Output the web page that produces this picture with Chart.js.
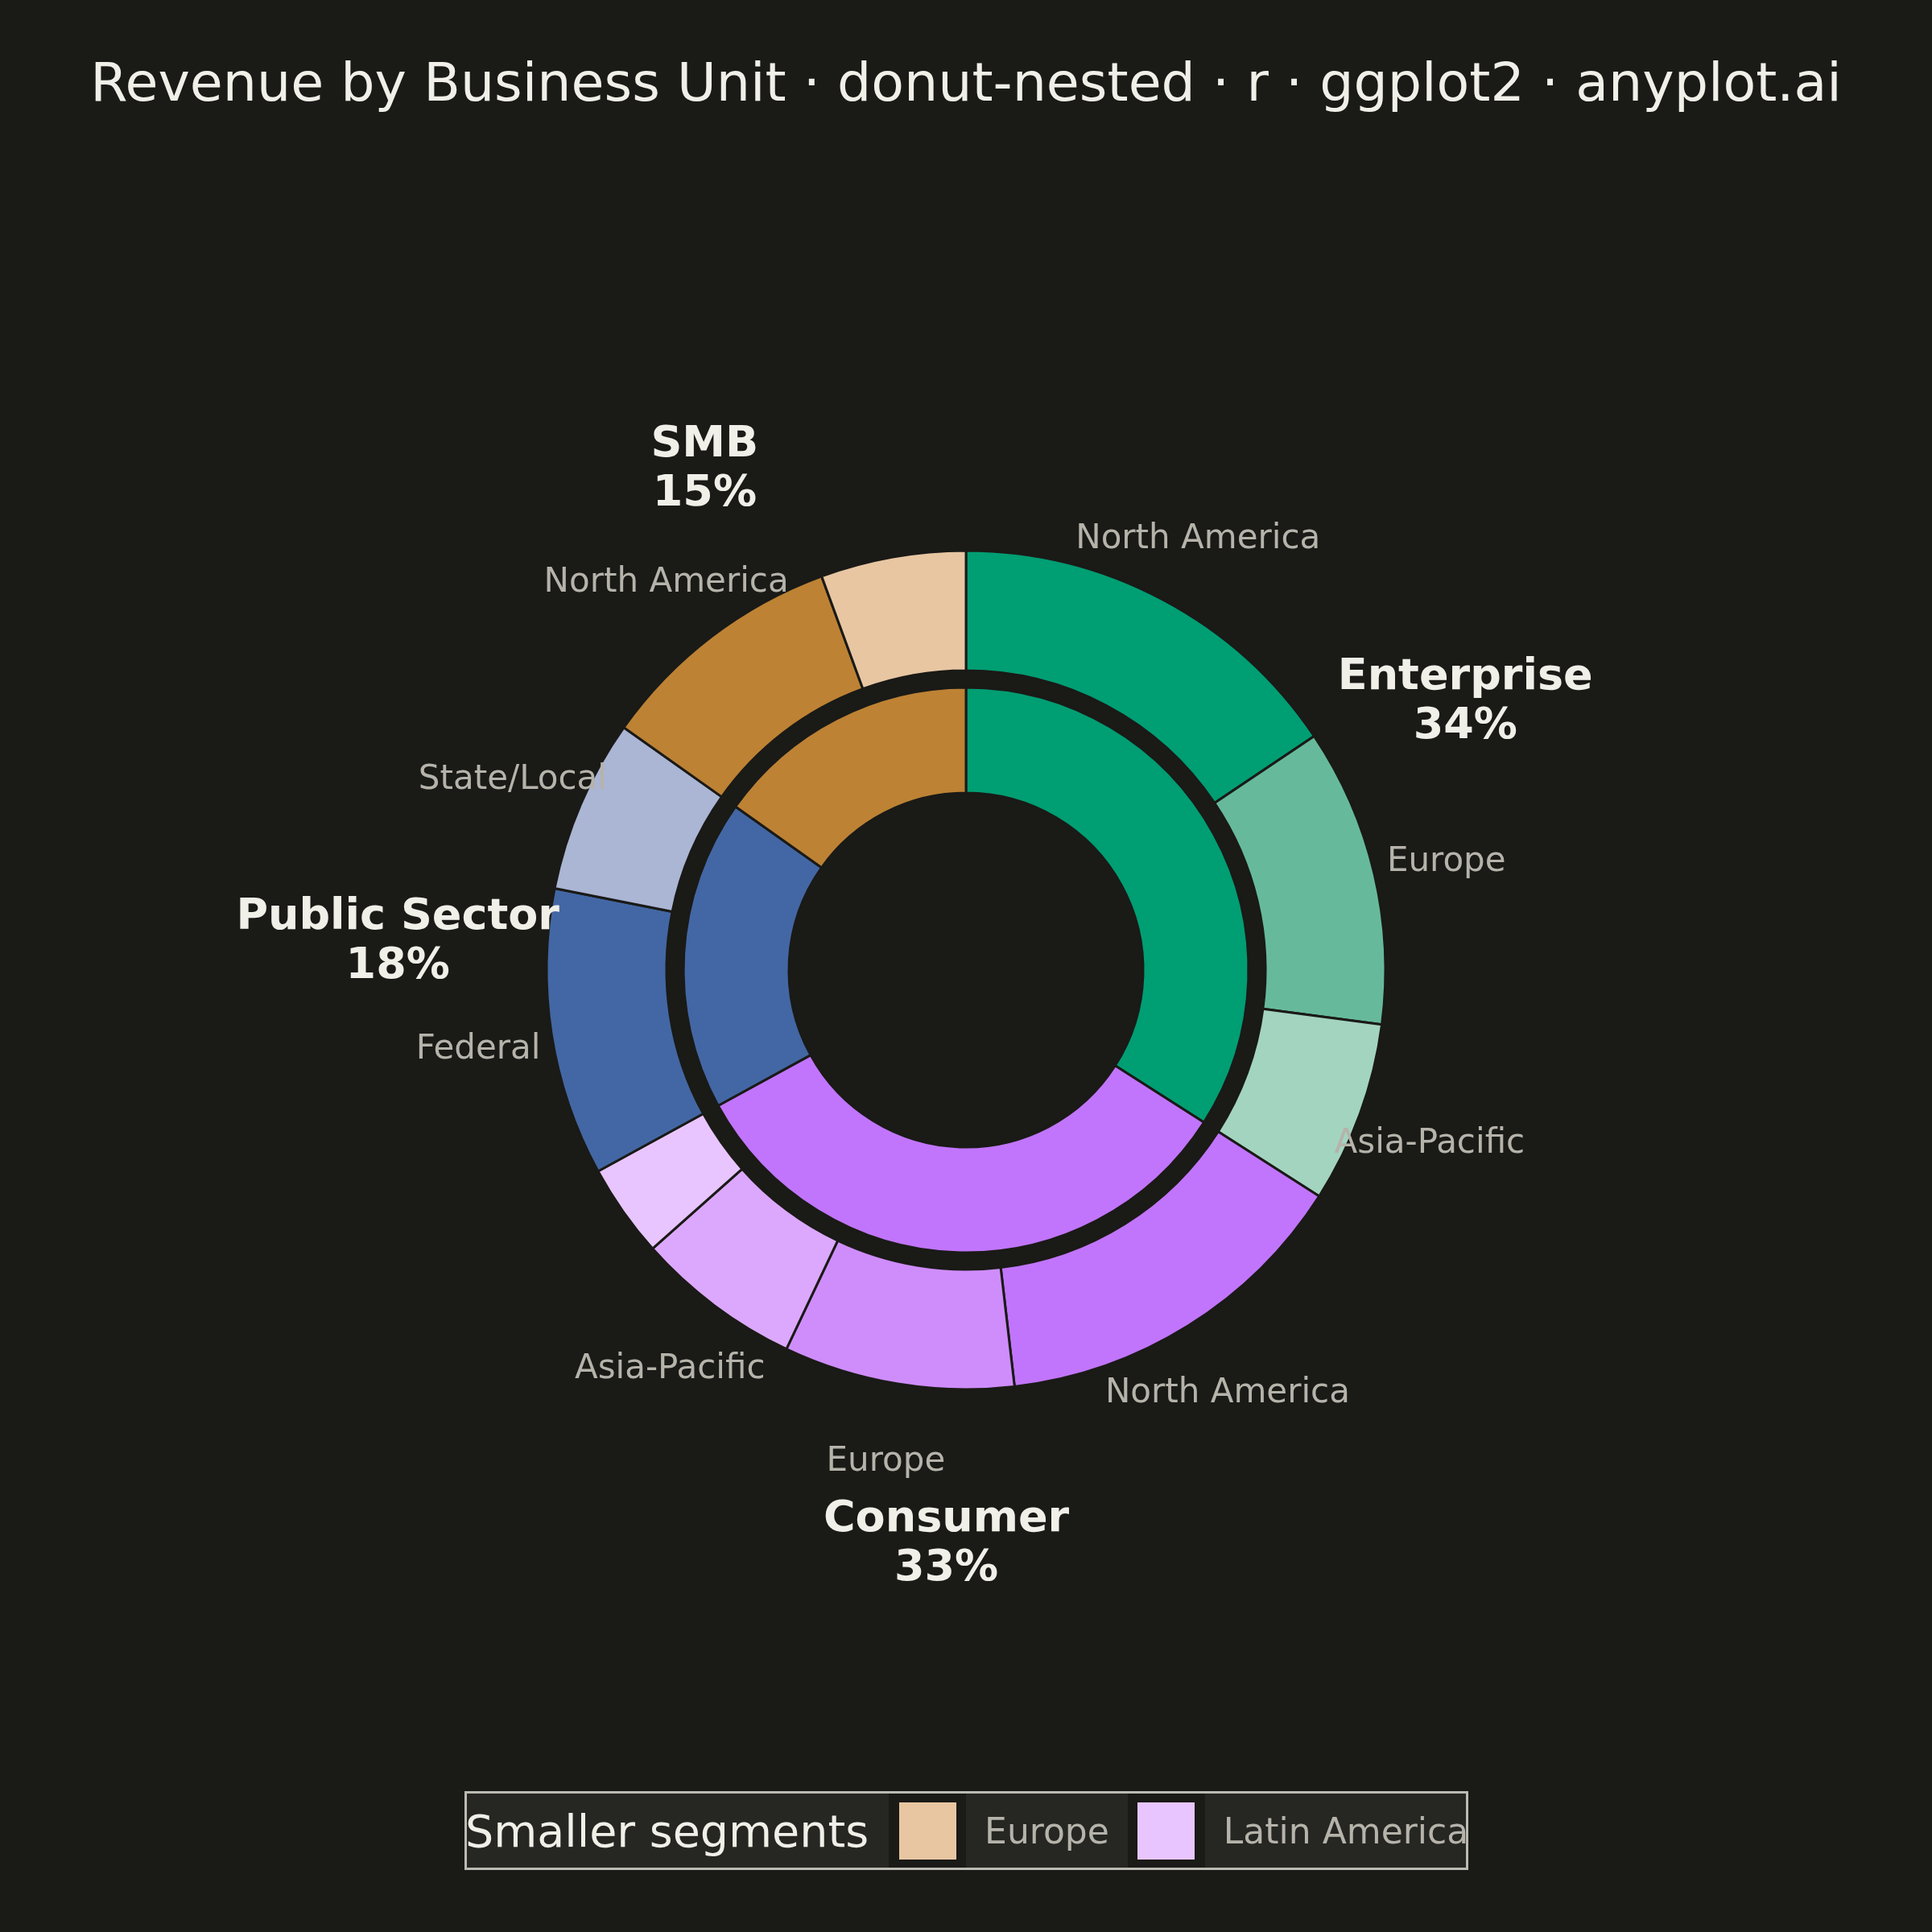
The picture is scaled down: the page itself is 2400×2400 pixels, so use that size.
<!DOCTYPE html>
<html>
<head>
<meta charset="utf-8">
<title>Revenue by Business Unit</title>
<script src="https://cdn.jsdelivr.net/npm/chart.js@4.4.1/dist/chart.umd.min.js"></script>
<style>
  html, body { margin: 0; padding: 0; background: #1A1A17; }
  #wrap { position: relative; width: 2400px; height: 2400px; }
  #legend {
    position: absolute; left: 577px; top: 2225px; width: 1247px; height: 98px;
    box-sizing: border-box; border: 3px solid #BCBBB3; background: #262622;
    display: flex; align-items: center; white-space: nowrap; overflow: visible;
    font-family: 'DejaVu Sans', sans-serif;
  }
  #legend > span { flex: 0 0 auto; }
  .lg-title { font-size: 55.5px; color: #F0EFE8; margin-left: -2px; margin-right: 25px; }
  .lg-key { width: 96px; height: 100%; background: #1A1A17; display: flex; align-items: center; justify-content: center; }
  .lg-key span { display: block; width: 71px; height: 71px; }
  .lg-label { font-size: 44px; color: #B5B3AA; margin: 0 23px; }
</style>
</head>
<body>
<div id="wrap">
  <canvas id="donut" width="2400" height="2400"></canvas>
  <div id="legend"></div>
</div>
<script>
// Données du graphique (part du chiffre d'affaires, en %)
const units = ['Enterprise', 'Consumer', 'Public Sector', 'SMB'];
const unitColors = ['#009E73', '#C175FC', '#4367A4', '#BD8234'];

const segmentUnit = ['Enterprise', 'Enterprise', 'Enterprise',
                     'Consumer', 'Consumer', 'Consumer', 'Consumer',
                     'Public Sector', 'Public Sector',
                     'SMB', 'SMB'];
const segmentLabels = ['North America', 'Europe', 'Asia-Pacific',
                       'North America', 'Europe', 'Asia-Pacific', 'Latin America',
                       'Federal', 'State/Local',
                       'North America', 'Europe'];
const segmentRevenue = [15.6, 11.5, 7.0,
                        14.1, 8.9, 6.4, 3.6,
                        11.1, 6.7,
                        9.6, 5.6];
const segmentColors = ['#009E73', '#66BA9B', '#A3D4C0',
                       '#C175FC', '#CF8DFC', '#DCA8FD', '#E8C5FF',
                       '#4367A4', '#ABB5D4',
                       '#BD8234', '#E8C6A2'];

// segments below this share go to the legend instead of a label
const smallShare = 0.06;

const bg = '#1A1A17';
const total = segmentRevenue.reduce((a, b) => a + b, 0);
const unitRevenue = units.map(u =>
  segmentRevenue.reduce((s, v, i) => s + (segmentUnit[i] === u ? v : 0), 0));

Chart.defaults.font.family = "'DejaVu Sans', sans-serif";

// Plugin pour les étiquettes autour des anneaux
const ringLabels = {
  id: 'ringLabels',
  afterDatasetsDraw(chart) {
    const ctx = chart.ctx;
    const outerMeta = chart.getDatasetMeta(0);
    const innerMeta = chart.getDatasetMeta(2);
    const R = outerMeta.data[0].outerRadius;
    const dy = 6;
    ctx.save();
    ctx.textAlign = 'center';
    ctx.textBaseline = 'middle';

    ctx.font = "42px 'DejaVu Sans'";
    ctx.fillStyle = '#B5B3AA';
    outerMeta.data.forEach((arc, i) => {
      if (segmentRevenue[i] / total < smallShare) return;
      const mid = (arc.startAngle + arc.endAngle) / 2;
      const r = R + 92;
      ctx.fillText(segmentLabels[i], arc.x + r * Math.cos(mid), arc.y + r * Math.sin(mid) + dy);
    });

    ctx.font = "bold 54px 'DejaVu Sans'";
    ctx.fillStyle = '#F0EFE8';
    innerMeta.data.forEach((arc, i) => {
      const mid = (arc.startAngle + arc.endAngle) / 2;
      const r = R + 186;
      const x = arc.x + r * Math.cos(mid);
      const y = arc.y + r * Math.sin(mid) + dy;
      const pct = Math.round(unitRevenue[i] / total * 100);
      ctx.fillText(units[i], x, y - 30);
      ctx.fillText(pct + '%', x, y + 31);
    });
    ctx.restore();
  }
};

const bgPlugin = {
  id: 'bgFill',
  beforeDraw(chart) {
    const ctx = chart.ctx;
    ctx.save();
    ctx.fillStyle = bg;
    ctx.fillRect(0, 0, chart.width, chart.height);
    ctx.restore();
  }
};

new Chart(document.getElementById('donut').getContext('2d'), {
  type: 'doughnut',
  data: {
    labels: segmentLabels,
    datasets: [
      {
        label: 'Region',
        data: segmentRevenue,
        backgroundColor: segmentColors,
        borderColor: bg,
        borderWidth: 3,
        weight: 149
      },
      {
        label: 'gap',
        data: [1],
        backgroundColor: 'rgba(0,0,0,0)',
        borderWidth: 0,
        weight: 21
      },
      {
        label: 'Business unit',
        data: unitRevenue,
        backgroundColor: unitColors,
        borderColor: bg,
        borderWidth: 3,
        weight: 131
      }
    ]
  },
  options: {
    responsive: false,
    devicePixelRatio: 1,
    animation: false,
    events: [],
    radius: 521,
    cutout: '42.23%',
    hoverOffset: 0,
    layout: { padding: { top: 0, bottom: 137.9, left: 0, right: 0 } },
    plugins: {
      legend: { display: false },
      tooltip: { enabled: false },
      title: {
        display: true,
        text: 'Revenue by Business Unit · donut-nested · r · ggplot2 · anyplot.ai',
        color: '#F0EFE8',
        font: { size: 66.6, weight: 'normal' },
        padding: { top: 68, bottom: 0 }
      }
    }
  },
  plugins: [bgPlugin, ringLabels]
});

// Légende des petits segments
const legend = document.getElementById('legend');
const titleEl = document.createElement('span');
titleEl.className = 'lg-title';
titleEl.textContent = 'Smaller segments';
legend.appendChild(titleEl);
const small = segmentLabels
  .map((name, i) => ({ name, color: segmentColors[i], share: segmentRevenue[i] / total }))
  .filter(d => d.share < smallShare)
  .sort((a, b) => a.name.localeCompare(b.name));
small.forEach(d => {
  const key = document.createElement('span');
  key.className = 'lg-key';
  const sw = document.createElement('span');
  sw.style.background = d.color;
  key.appendChild(sw);
  legend.appendChild(key);
  const lab = document.createElement('span');
  lab.className = 'lg-label';
  lab.textContent = d.name;
  legend.appendChild(lab);
});
</script>
</body>
</html>
